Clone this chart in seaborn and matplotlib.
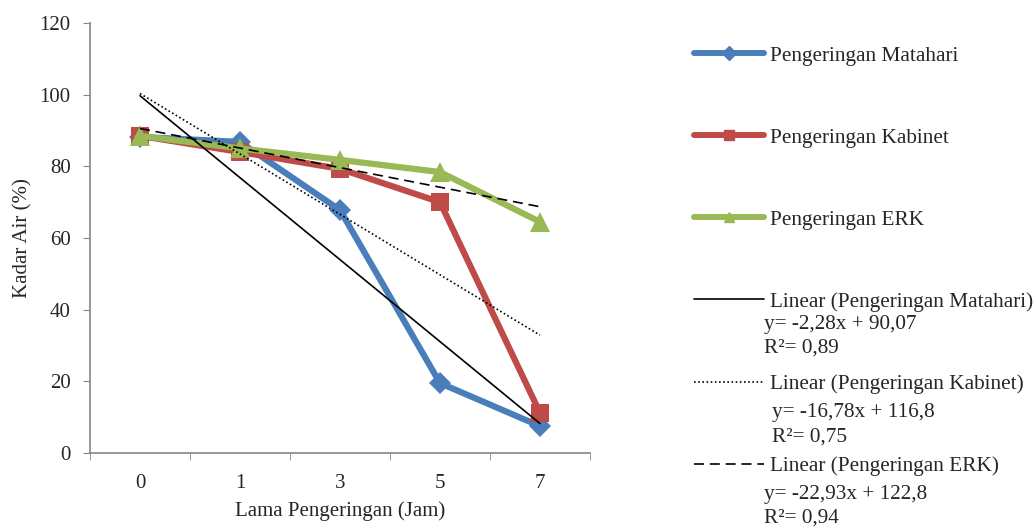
import numpy as np
import pandas as pd
import seaborn as sns
import matplotlib.pyplot as plt
from matplotlib.lines import Line2D
from matplotlib.ticker import FixedLocator

# data
jam = ["0", "1", "3", "5", "7"]
matahari = [88.2, 86.8, 67.8, 19.5, 7.5]
kabinet = [88.5, 84.0, 79.3, 70.0, 11.2]
erk = [88.5, 85.0, 81.8, 78.4, 64.5]
seri = ["Pengeringan Matahari", "Pengeringan Kabinet", "Pengeringan ERK"]
persamaan = [("y= -2,28x + 90,07", "R²= 0,89"),
             ("y= -16,78x + 116,8", "R²= 0,75"),
             ("y= -22,93x + 122,8", "R²= 0,94")]

warna = ["#4a7ebb", "#be4b48", "#98b954"]
penanda = ["D", "s", "^"]
ukuran = [11, 13, 14]
gaya_tren = ["-", (0, (1, 1.5)), (0, (6, 3.5))]

pos = np.arange(len(jam))
df = pd.DataFrame({
    "pos": np.tile(pos, 3),
    "kadar": matahari + kabinet + erk,
    "metode": np.repeat(seri, len(jam)),
})

sns.set_style("white")
plt.rcParams["font.family"] = ["Liberation Serif", "DejaVu Serif"]
fs = 15

fig = plt.figure(figsize=(10.36, 5.29), dpi=100)
ax = fig.add_axes([90 / 1036, 76 / 529, 500 / 1036, 430 / 529])

sns.lineplot(data=df, x="pos", y="kadar", hue="metode", style="metode",
             hue_order=seri, style_order=seri, palette=warna,
             markers=dict(zip(seri, penanda)), dashes=False,
             linewidth=4.5, markersize=12, markeredgewidth=0,
             legend=False, ax=ax)
for ln, uk in zip(ax.lines[:3], ukuran):
    ln.set_markersize(uk)

# garis tren linier
for nilai, ls in zip([matahari, kabinet, erk], gaya_tren):
    sns.regplot(x=pos, y=nilai, scatter=False, ci=None, truncate=True,
                color="black", line_kws={"linewidth": 1.2, "linestyle": ls}, ax=ax)

ax.set_xlim(-0.5, 4.5)
ax.set_ylim(0, 120)
ax.set_yticks(range(0, 121, 20))
ax.set_xticks(pos)
ax.set_xticklabels(jam)
ax.xaxis.set_minor_locator(FixedLocator(np.arange(-0.5, 4.6, 1)))
ax.tick_params(axis="x", which="major", length=0, pad=15, labelsize=fs)
ax.tick_params(axis="x", which="minor", length=5, direction="out", color="#868686", bottom=True)
ax.tick_params(axis="y", length=5, direction="out", color="#868686", left=True, labelsize=fs, pad=9)
for s in ["top", "right"]:
    ax.spines[s].set_visible(False)
for s in ["left", "bottom"]:
    ax.spines[s].set_color("#868686")
    ax.spines[s].set_linewidth(1.2)
ax.set_xlabel("Lama Pengeringan (Jam)", fontsize=fs, labelpad=6)
ax.set_ylabel("Kadar Air (%)", fontsize=fs, labelpad=5)

handles = [Line2D([], [], color=c, marker=m, linewidth=4.3, markersize=7)
           for c, m in zip(warna, penanda)]
handles += [Line2D([], [], color="black", linewidth=1.2, linestyle=ls) for ls in gaya_tren]
labels = seri + ["Linear (" + s + ")" for s in seri]
fig.legend(handles, labels, loc="upper left", bbox_to_anchor=(683 / 1036, 1 - 35 / 529),
           frameon=False, fontsize=15.3, handlelength=3.3, handletextpad=0.3,
           labelspacing=2.93, borderpad=0)

tx = [764, 772, 764]
ty = [324, 413, 494]
for (eq, r2), x, y in zip(persamaan, tx, ty):
    fig.text(x / 1036, 1 - y / 529, eq, fontsize=15.3, va="center", ha="left")
    fig.text(x / 1036, 1 - (y + 24) / 529, r2, fontsize=15.3, va="center", ha="left")

fig.savefig("out.png", dpi=100)
